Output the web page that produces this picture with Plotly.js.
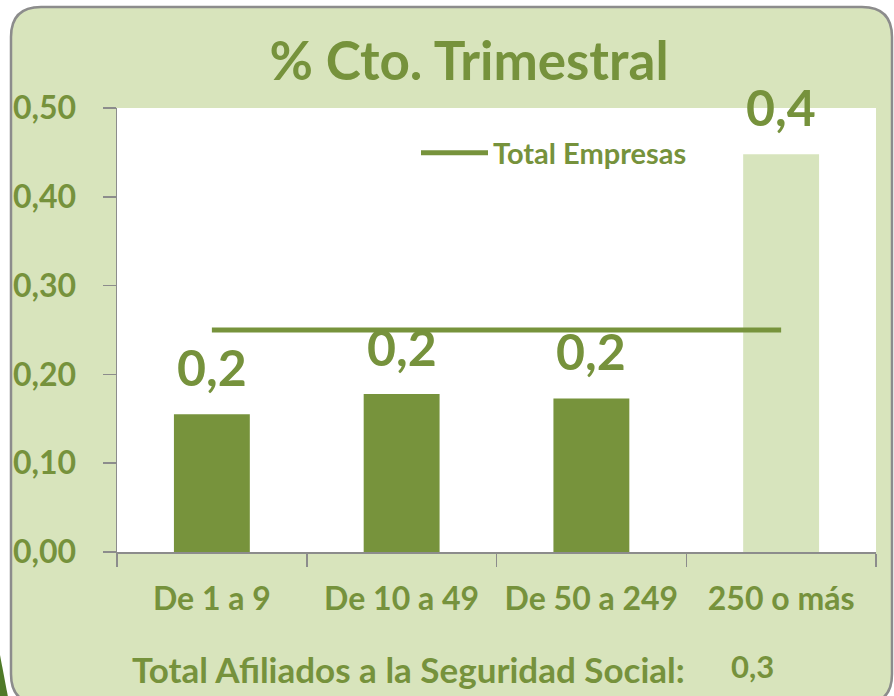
<!DOCTYPE html>
<html>
<head>
<meta charset="utf-8">
<script src="https://cdn.plot.ly/plotly-3.0.1.min.js"></script>
<style>
  html, body { margin: 0; padding: 0; background: #ffffff; }
  #chart { width: 894px; height: 696px; }
</style>
</head>
<body>
<div id="chart"></div>
<script>
// ---- data ----
const categories = ['De 1 a 9', 'De 10 a 49', 'De 50 a 249', '250 o más'];
const cambioTrimestral = [0.155, 0.178, 0.173, 0.448];
const totalEmpresas = [0.25, 0.25, 0.25, 0.25];
const totalAfiliados = 0.3;
const yTicks = [0, 0.1, 0.2, 0.3, 0.4, 0.5];

// ---- style ----
const dark = '#77933c';
const light = '#d7e4bd';
const txt = '#76923c';
const gray = '#8c8c8c';
const FONT = 'Lato, "Open Sans", sans-serif';

const W = 894, H = 696;
const M = {l: 117, r: 18, t: 108, b: 144};
const pw = W - M.l - M.r, ph = H - M.t - M.b;
const px = x => ((x - M.l) / pw).toFixed(5);
const py = y => ((H - M.b - y) / ph).toFixed(5);

function fmt1(v) { return v.toFixed(1).replace('.', ','); }

// rounded frame path (paper coords)
const L = 11, T = 7, R = 892, B = 704, r = 30;
const framePath =
  `M${px(L)},${py(T + r)} Q${px(L)},${py(T)} ${px(L + r)},${py(T)} ` +
  `L${px(R - r)},${py(T)} Q${px(R)},${py(T)} ${px(R)},${py(T + r)} ` +
  `L${px(R)},${py(B - r)} Q${px(R)},${py(B)} ${px(R - r)},${py(B)} ` +
  `L${px(L + r)},${py(B)} Q${px(L)},${py(B)} ${px(L)},${py(B - r)} Z`;
const triPath = `M${px(0)},${py(655)} L${px(8)},${py(697)} L${px(0)},${py(697)} Z`;

const barColors = cambioTrimestral.map((v, i) => i === categories.length - 1 ? light : dark);

const traces = [
  {
    type: 'bar',
    x: categories,
    y: cambioTrimestral,
    marker: {color: barColors, line: {width: 0}},
    showlegend: false,
    hoverinfo: 'skip'
  },
  {
    type: 'scatter',
    mode: 'lines',
    x: categories,
    y: totalEmpresas,
    name: 'Total Empresas',
    line: {color: dark, width: 5},
    hoverinfo: 'skip'
  }
];

const annotations = cambioTrimestral.map((v, i) => ({
  x: categories[i], y: v, xref: 'x', yref: 'y',
  text: fmt1(v), showarrow: false,
  xanchor: 'center', yanchor: 'middle', yshift: 47,
  font: {family: FONT, size: 50, color: txt, weight: 'bold'}
}));
annotations.push({
  xref: 'paper', yref: 'paper', x: px(130), y: py(669),
  xanchor: 'left', yanchor: 'middle', showarrow: false,
  text: 'Total Afiliados a la Seguridad Social:',
  font: {family: FONT, size: 35, color: txt, weight: 'bold'}
});
annotations.push({
  xref: 'paper', yref: 'paper', x: px(729), y: py(666),
  xanchor: 'left', yanchor: 'middle', showarrow: false,
  text: fmt1(totalAfiliados),
  font: {family: FONT, size: 31, color: txt, weight: 'bold'}
});

const layout = {
  width: W, height: H,
  margin: M,
  paper_bgcolor: '#ffffff',
  plot_bgcolor: '#ffffff',
  separators: ',.',
  font: {family: FONT, color: txt, weight: 'bold'},
  title: {
    text: '% Cto. Trimestral',
    font: {family: FONT, size: 53, color: txt, weight: 'bold'},
    xref: 'container', yref: 'container',
    x: 469 / W, xanchor: 'center',
    y: 1 - 61 / H, yanchor: 'middle'
  },
  bargap: 0.6,
  xaxis: {
    type: 'category',
    showgrid: false,
    showline: true, linecolor: gray, linewidth: 1.5,
    ticks: 'outside', tickson: 'boundaries', ticklen: 13, tickcolor: gray, tickwidth: 1.5,
    tickfont: {family: FONT, size: 32, color: txt, weight: 'bold'},
    ticklabelstandoff: 18,
    fixedrange: true
  },
  yaxis: {
    range: [0, 0.5],
    tickvals: yTicks,
    tickformat: '.2f',
    showgrid: false, zeroline: false,
    showline: true, linecolor: gray, linewidth: 1.5,
    ticks: 'outside', ticklen: 13, tickcolor: gray, tickwidth: 1.5,
    tickfont: {family: FONT, size: 32, color: txt, weight: 'bold'},
    ticklabelstandoff: 20,
    fixedrange: true
  },
  legend: {
    x: px(416), y: py(153), xanchor: 'left', yanchor: 'middle',
    bgcolor: 'rgba(0,0,0,0)', borderwidth: 0,
    itemwidth: 67,
    font: {family: FONT, size: 29, color: txt, weight: 'bold'}
  },
  shapes: [
    {type: 'path', xref: 'paper', yref: 'paper', path: framePath,
     fillcolor: '#d8e4bc', line: {color: gray, width: 2.5}, layer: 'below'},
    {type: 'rect', xref: 'paper', yref: 'paper', x0: 0, x1: 1, y0: 0, y1: 1,
     fillcolor: '#ffffff', line: {width: 0}, layer: 'below'},
    {type: 'path', xref: 'paper', yref: 'paper', path: triPath,
     fillcolor: '#4f7a28', line: {width: 0}, layer: 'below'}
  ],
  annotations: annotations
};

Plotly.newPlot('chart', traces, layout, {displayModeBar: false, staticPlot: true});
</script>
</body>
</html>
